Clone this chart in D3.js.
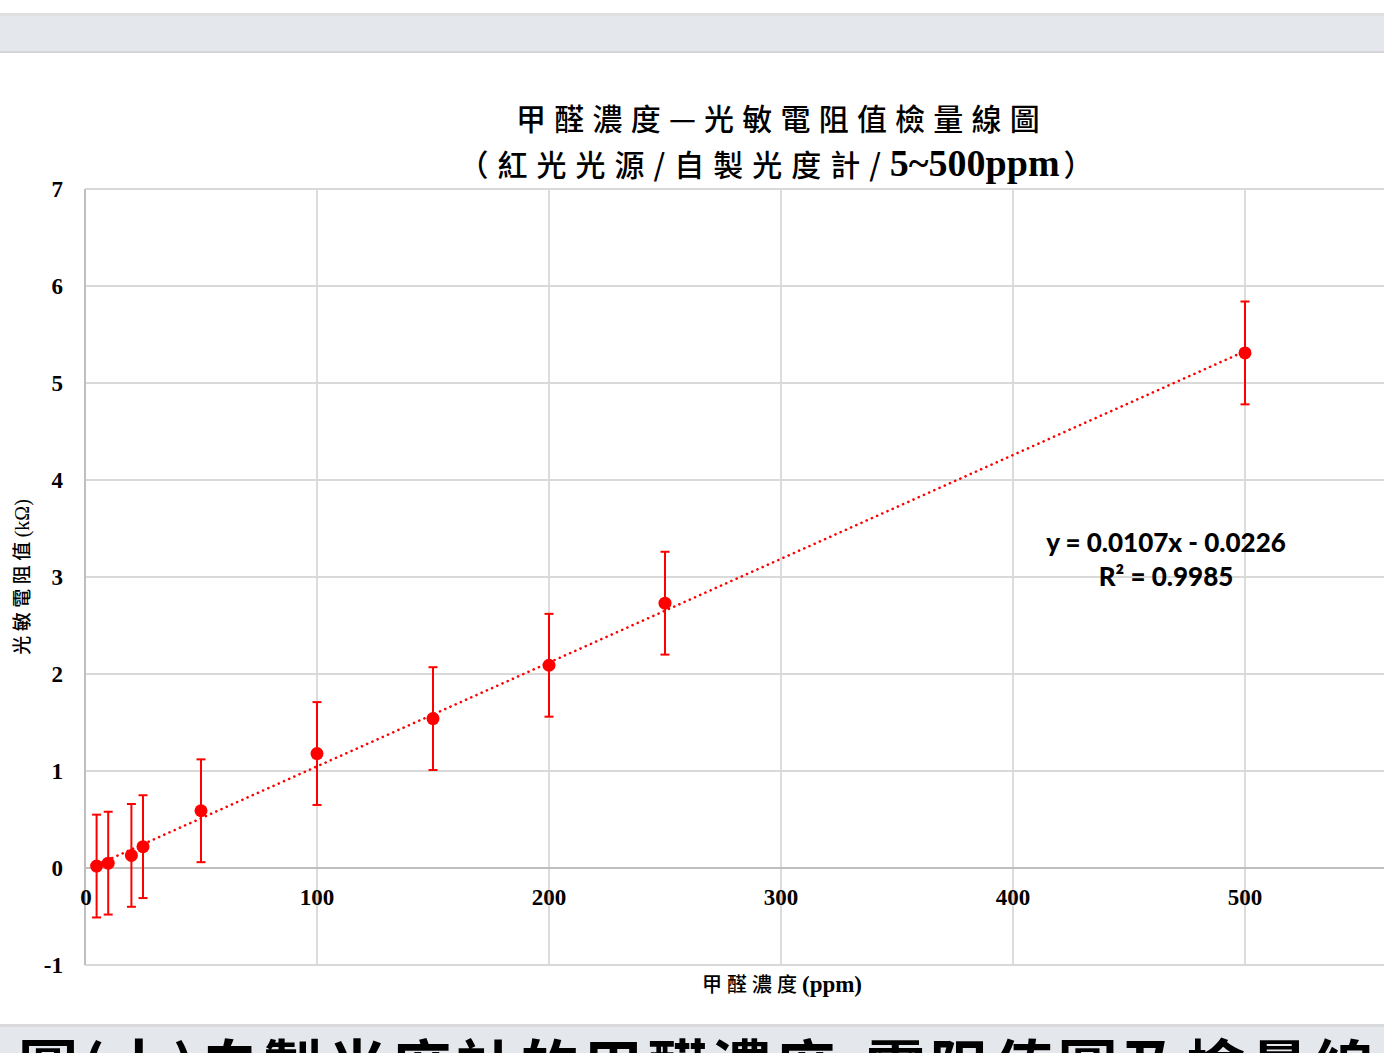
<!DOCTYPE html>
<html>
<head>
<meta charset="utf-8">
<script src="https://cdn.jsdelivr.net/npm/d3@7"></script>
<style>
  html, body { margin: 0; padding: 0; background: #ffffff; }
  svg { display: block; }
</style>
</head>
<body>
<svg id="chart" width="1384" height="1053"></svg>
<script>
// Formaldehyde concentration (ppm) vs. photoresistor resistance (kΩ)
const concentrations = [5, 10, 20, 25, 50, 100, 150, 200, 250, 500];
const resistances    = [0.02, 0.05, 0.13, 0.22, 0.59, 1.18, 1.54, 2.09, 2.73, 5.31];
const errors         = [0.53, 0.53, 0.53, 0.53, 0.53, 0.53, 0.53, 0.53, 0.53, 0.53];
const xTicks = [0, 100, 200, 300, 400, 500];
const yTicks = [-1, 0, 1, 2, 3, 4, 5, 6, 7];
const slope = 0.0107, intercept = -0.0226, r2 = "0.9985";

const titleLine1 = "甲醛濃度—光敏電阻值檢量線圖";
const titleLine2Cjk = "（紅光光源/自製光度計/";
const titleLine2Latin = "5~500ppm";
const titleLine2End = "）";
const xLabelCjk = "甲醛濃度", xLabelLatin = "(ppm)";
const yLabelCjk = "光敏電阻值", yLabelLatin = "(kΩ)";
const caption = "圖(十)自製光度計的甲醛濃度-電阻值圖及檢量線";

const W = 1384, H = 1053;
const svg = d3.select("#chart");

const CJK = "'Noto Sans CJK TC', 'Noto Sans CJK SC', sans-serif";
const SERIF = "'Liberation Serif', 'DejaVu Serif', serif";
const EQFONT = "Lato, 'Open Sans', sans-serif";

// page bands (top toolbar strip and caption strip)
svg.append("rect").attr("x", 0).attr("y", 13).attr("width", W).attr("height", 40).attr("fill", "#e4e7ec");
svg.append("rect").attr("x", 0).attr("y", 13).attr("width", W).attr("height", 3).attr("fill", "#e0e0e1");
svg.append("rect").attr("x", 0).attr("y", 51).attr("width", W).attr("height", 2).attr("fill", "#d5d5d7");

svg.append("rect").attr("x", 0).attr("y", 1025).attr("width", W).attr("height", H - 1025).attr("fill", "#e4e7ec");
svg.append("rect").attr("x", 0).attr("y", 1024).attr("width", W).attr("height", 3).attr("fill", "#dadadc");

// scales
const x = d3.scaleLinear().domain([0, 500]).range([85, 1245]);
const y = d3.scaleLinear().domain([-1, 7]).range([965, 189]);
const plotRight = W;

// gridlines
const grid = svg.append("g");
grid.selectAll("line.h").data(yTicks.filter(v => v !== 0)).join("line")
  .attr("x1", x(0)).attr("x2", plotRight)
  .attr("y1", d => y(d)).attr("y2", d => y(d))
  .attr("stroke", "#d9d9d9").attr("stroke-width", 1.8);
grid.selectAll("line.v").data(xTicks.filter(v => v !== 0)).join("line")
  .attr("x1", d => x(d)).attr("x2", d => x(d))
  .attr("y1", y(7)).attr("y2", y(-1))
  .attr("stroke", "#d9d9d9").attr("stroke-width", 1.8);

// axis lines
svg.append("line").attr("x1", x(0)).attr("x2", plotRight).attr("y1", y(0)).attr("y2", y(0))
  .attr("stroke", "#bfbfbf").attr("stroke-width", 2);
svg.append("line").attr("x1", x(0)).attr("x2", x(0)).attr("y1", y(7)).attr("y2", y(-1))
  .attr("stroke", "#bfbfbf").attr("stroke-width", 2);

// tick labels
svg.append("g").selectAll("text").data(yTicks).join("text")
  .attr("x", 63).attr("y", d => y(d)).attr("dy", "0.35em")
  .attr("text-anchor", "end")
  .attr("font-family", SERIF).attr("font-weight", "bold").attr("font-size", 23)
  .attr("fill", "#000").text(d => d);

svg.append("g").selectAll("text").data(xTicks).join("text")
  .attr("x", d => x(d) + (d === 0 ? 1 : 0)).attr("y", y(0) + 29).attr("dy", "0.35em")
  .attr("text-anchor", "middle")
  .attr("font-family", SERIF).attr("font-weight", "bold").attr("font-size", 23)
  .attr("fill", "#000").text(d => d);

// axis titles
const xt = svg.append("text").attr("x", 782).attr("y", 992).attr("text-anchor", "middle").attr("fill", "#000");
xt.append("tspan").attr("font-family", CJK).attr("font-weight", 500).attr("font-size", 20)
  .attr("letter-spacing", 5).text(xLabelCjk);
xt.append("tspan").attr("font-family", SERIF).attr("font-weight", "bold").attr("font-size", 23).text(xLabelLatin);

const yt = svg.append("text").attr("transform", "translate(29,577) rotate(-90)")
  .attr("text-anchor", "middle").attr("fill", "#000");
yt.append("tspan").attr("font-family", CJK).attr("font-weight", 500).attr("font-size", 19)
  .attr("letter-spacing", 4.5).text(yLabelCjk);
yt.append("tspan").attr("font-family", SERIF).attr("font-size", 20).text(yLabelLatin);

// chart title
svg.append("text").attr("x", 782).attr("y", 130).attr("text-anchor", "middle")
  .attr("font-family", CJK).attr("font-weight", 500).attr("font-size", 30)
  .attr("letter-spacing", 8.2).attr("fill", "#000").text(titleLine1);

const t2 = svg.append("text").attr("x", 776).attr("y", 176).attr("text-anchor", "middle").attr("fill", "#000");
t2.append("tspan").attr("font-family", CJK).attr("font-weight", 500).attr("font-size", 30)
  .attr("letter-spacing", 9).text(titleLine2Cjk);
t2.append("tspan").attr("font-family", SERIF).attr("font-weight", "bold").attr("font-size", 38).text(titleLine2Latin);
t2.append("tspan").attr("font-family", CJK).attr("font-weight", 500).attr("font-size", 30)
  .attr("dx", 4).text(titleLine2End);

// linear fit, drawn dotted between the first and last concentration
const xMin = d3.min(concentrations), xMax = d3.max(concentrations);
const fitLine = d3.line().x(d => x(d)).y(d => y(slope * d + intercept));
svg.append("path").datum([xMin, xMax]).attr("d", fitLine)
  .attr("fill", "none").attr("stroke", "#ff0000").attr("stroke-width", 2.6)
  .attr("stroke-linecap", "round").attr("stroke-dasharray", "0.1 5.6");

// error bars
const data = concentrations.map((c, i) => ({ c, r: resistances[i], e: errors[i] }));
const eb = svg.append("g").attr("stroke", "#ff0000").attr("stroke-width", 2);
eb.selectAll("line.bar").data(data).join("line")
  .attr("x1", d => x(d.c)).attr("x2", d => x(d.c))
  .attr("y1", d => y(d.r + d.e)).attr("y2", d => y(d.r - d.e));
eb.selectAll("line.top").data(data).join("line")
  .attr("x1", d => x(d.c) - 4.5).attr("x2", d => x(d.c) + 4.5)
  .attr("y1", d => y(d.r + d.e)).attr("y2", d => y(d.r + d.e));
eb.selectAll("line.bot").data(data).join("line")
  .attr("x1", d => x(d.c) - 4.5).attr("x2", d => x(d.c) + 4.5)
  .attr("y1", d => y(d.r - d.e)).attr("y2", d => y(d.r - d.e));

// data points
svg.append("g").selectAll("circle").data(data).join("circle")
  .attr("cx", d => x(d.c)).attr("cy", d => y(d.r)).attr("r", 6.5)
  .attr("fill", "#ff0000");

// regression equation
const fmt = v => v.toFixed(4);
const eqText = `y = ${fmt(slope)}x - ${fmt(Math.abs(intercept))}`;
svg.append("text").attr("x", 1166).attr("y", 552).attr("text-anchor", "middle")
  .attr("font-family", EQFONT).attr("font-weight", 900).attr("font-size", 26)
  .attr("fill", "#000").text(eqText);
svg.append("text").attr("x", 1166).attr("y", 586).attr("text-anchor", "middle")
  .attr("font-family", EQFONT).attr("font-weight", 900).attr("font-size", 26)
  .attr("fill", "#000").text(`R² = ${r2}`);

// figure caption (cut by the bottom of the view)
svg.append("text").attr("x", 18).attr("y", 1090)
  .attr("font-family", CJK).attr("font-weight", "bold").attr("font-size", 60)
  .attr("letter-spacing", 4).attr("fill", "#000").text(caption);
</script>
</body>
</html>
